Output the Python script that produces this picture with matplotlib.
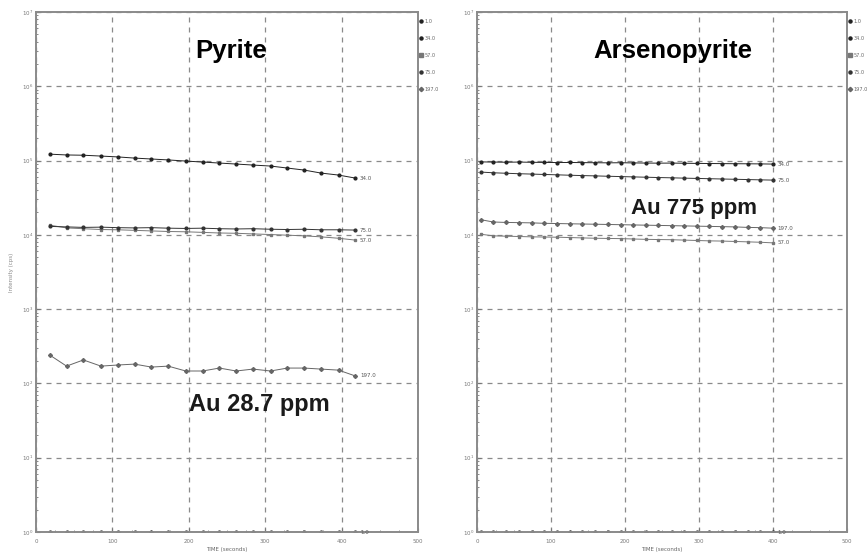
import matplotlib
matplotlib.use("Agg")
import matplotlib.pyplot as plt
from matplotlib.lines import Line2D
from matplotlib.ticker import FixedLocator, LogLocator, MultipleLocator, NullFormatter

# channel names (masses) shown in legends / end labels
masses = ["1.0", "34.0", "57.0", "75.0", "197.0"]
colors = ["#222222", "#222222", "#777777", "#333333", "#666666"]
markers = ["o", "o", "s", "o", "D"]
y_ticks = [1, 10, 100, 1000, 10000, 100000, 1000000, 10000000]

# Pyrite time-resolved signal (cps)
pyr_time = [18, 40, 62, 85, 107, 129, 151, 173, 196, 218, 240, 262, 284, 307, 329, 351, 373, 396, 418]
pyr_1 = [1.0, 1.0, 1.0, 1.0, 1.0, 1.0, 1.0, 1.0, 1.0, 1.0, 1.0, 1.0, 1.0, 1.0, 1.0, 1.0, 1.0, 1.0, 1.0]
pyr_34 = [122000, 119000, 118000, 115000, 112000, 108000, 105000, 102000, 98500, 95500,
          92600, 89800, 87000, 84400, 79300, 74500, 67900, 63800, 58100]
pyr_57 = [13500, 12400, 12100, 11800, 11700, 11500, 11300, 11100, 11000, 10800,
          10600, 10500, 10300, 10100, 9900, 9700, 9400, 9000, 8500]
pyr_75 = [13000, 12800, 12600, 12700, 12500, 12400, 12500, 12300, 12200, 12300,
          12100, 12000, 12100, 11900, 11800, 11900, 11700, 11700, 11600]
pyr_197 = [241, 171, 207, 171, 177, 182, 166, 171, 147, 147, 161, 147, 156, 147, 161, 161, 156, 151, 126]

# Arsenopyrite time-resolved signal (cps)
apy_time = [5, 22, 39, 57, 74, 91, 108, 125, 142, 160, 177, 194, 211, 228, 245, 263, 280, 297,
            314, 331, 348, 366, 383, 400]
apy_1 = [1.0, 1.0, 1.0, 1.0, 1.0, 1.0, 1.0, 1.0, 1.0, 1.0, 1.0, 1.0, 1.0, 1.0, 1.0, 1.0, 1.0, 1.0,
         1.0, 1.0, 1.0, 1.0, 1.0, 1.0]
apy_34 = [96000, 95500, 95000, 95500, 94800, 94500, 94000, 94300, 93800, 93500, 93200, 93500,
          93000, 92600, 92300, 92500, 92000, 91600, 91300, 91000, 90700, 90500, 90200, 89700]
apy_57 = [10200, 9700, 9600, 9500, 9400, 9350, 9300, 9200, 9100, 9000, 8950, 8900,
          8800, 8700, 8650, 8600, 8500, 8400, 8300, 8250, 8150, 8050, 7950, 7800]
apy_75 = [70000, 68500, 67500, 66500, 65800, 65000, 64300, 63500, 62800, 62200, 61500, 60900,
          60300, 59700, 59100, 58600, 58000, 57500, 57000, 56500, 56000, 55500, 55000, 54600]
apy_197 = [16000, 14900, 14700, 14600, 14500, 14300, 14200, 14100, 14000, 13900, 13800, 13700,
           13600, 13500, 13400, 13300, 13200, 13100, 13000, 12900, 12800, 12600, 12500, 12300]

panels = [
    ("Pyrite", (0.51, 0.925), "Au 28.7 ppm", (0.586, 0.245), 17, pyr_time,
     [pyr_1, pyr_34, pyr_57, pyr_75, pyr_197]),
    ("Arsenopyrite", (0.53, 0.925), "Au 775 ppm", (0.586, 0.623), 16, apy_time,
     [apy_1, apy_34, apy_57, apy_75, apy_197]),
]

fig = plt.figure(figsize=(8.68, 5.56), dpi=100)
rects = [[36 / 868, 24 / 556, 382 / 868, 520 / 556],
         [477 / 868, 24 / 556, 370 / 868, 520 / 556]]

for i, (title, title_pos, au_text, au_pos, au_size, t, series) in enumerate(panels):
    ax = fig.add_axes(rects[i])
    for name, vals, c, m in zip(masses, series, colors, markers):
        ax.plot(t, vals, color=c, lw=0.7, marker=m, ms=2, mfc=c, mec=c)
        ax.text(t[-1] + 6, vals[-1], name, fontsize=4, color="#555555", va="center")

    ax.set_yscale("log")
    ax.set_ylim(1, 1e7)
    ax.set_xlim(0, 500)
    ax.xaxis.set_major_locator(MultipleLocator(100))
    ax.xaxis.set_minor_locator(MultipleLocator(25))
    ax.yaxis.set_major_locator(FixedLocator(y_ticks))
    ax.yaxis.set_minor_locator(LogLocator(base=10, subs=(2, 3, 4, 5, 6, 7, 8, 9), numticks=10))
    ax.yaxis.set_minor_formatter(NullFormatter())
    ax.grid(True, which="major", ls=(0, (4, 4)), color="#8a8a8a", lw=0.9)
    ax.tick_params(which="both", direction="in", labelsize=4, colors="#777777")
    ax.tick_params(axis="x", pad=5)
    ax.tick_params(axis="y", pad=2)
    ax.tick_params(which="major", length=3)
    ax.tick_params(which="minor", length=1.5)
    for sp in ax.spines.values():
        sp.set_color("#8a8a8a")
        sp.set_linewidth(1.4)
    ax.set_xlabel("TIME (seconds)", fontsize=4, color="#666666", labelpad=2)
    if i == 0:
        ax.set_ylabel("Intensity (cps)", fontsize=4, color="#888888", labelpad=6)

    ax.text(title_pos[0], title_pos[1], title, transform=ax.transAxes, ha="center", va="center",
            fontsize=18.5, fontweight="bold", family="Liberation Sans")
    ax.text(au_pos[0], au_pos[1], au_text, transform=ax.transAxes, ha="center", va="center",
            fontsize=au_size, fontweight="bold", family="Liberation Sans", color="#1a1a1a")

    handles = [Line2D([], [], ls="none", marker=m, color=c, ms=2.2) for c, m in zip(colors, markers)]
    leg = ax.legend(handles, masses, loc="upper left", bbox_to_anchor=(1.0, 0.99), frameon=False,
                    fontsize=3.6, handlelength=0.5, handletextpad=0.5, labelspacing=2.4,
                    borderaxespad=0.1, borderpad=0.2)
    for txt in leg.get_texts():
        txt.set_color("#666666")

fig.savefig("out.png", dpi=100)
